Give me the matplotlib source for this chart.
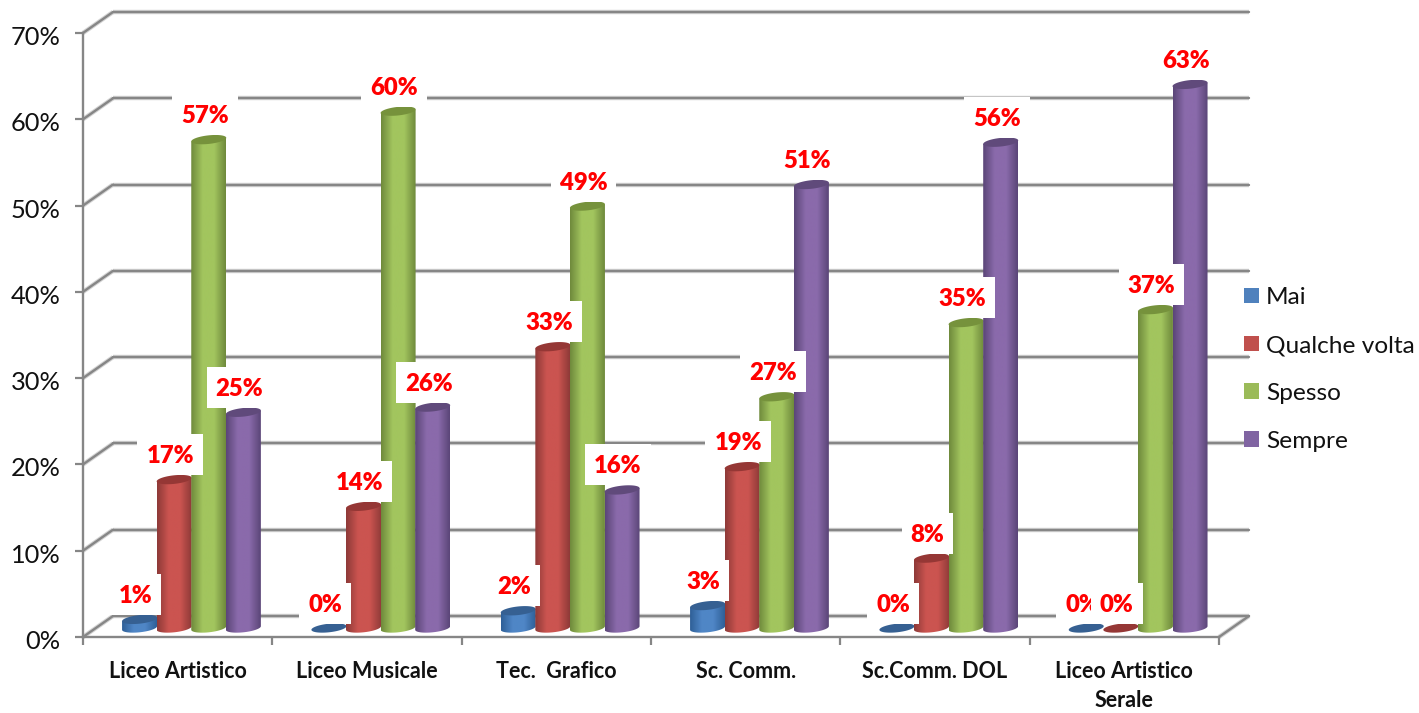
import numpy as np
import matplotlib
matplotlib.use("Agg")
import matplotlib.pyplot as plt
from matplotlib.patches import Polygon, Patch, Rectangle
from matplotlib.colors import LinearSegmentedColormap
from matplotlib.transforms import ScaledTranslation

categories = ["Liceo Artistico", "Liceo Musicale", "Tec.  Grafico", "Sc. Comm.",
              "Sc.Comm. DOL", "Liceo Artistico\nSerale"]
mai = [1.0, 0.0, 2.0, 2.6, 0.0, 0.0]
qualche = [17.2, 14.1, 32.6, 18.7, 8.1, 0.0]
spesso = [56.6, 59.9, 48.9, 26.8, 35.4, 36.9]
sempre = [25.0, 25.6, 16.0, 51.4, 56.3, 63.0]
series_names = ["Mai", "Qualche volta", "Spesso", "Sempre"]
series_values = [mai, qualche, spesso, sempre]
y_ticks = [0, 10, 20, 30, 40, 50, 60, 70]

# (edge, centre, top ellipse)
palette = [("#2f6098", "#4f86c6", "#366092"),
           ("#8e3a38", "#cb5450", "#953735"),
           ("#6f8a3c", "#a2c55e", "#76923c"),
           ("#5b4678", "#8a6aab", "#604a7b")]
legend_colors = ["#4f81bd", "#c0504d", "#9bbb59", "#8064a2"]

W, H = 1419, 713
X0, X1, Y0, Y70 = 83, 1219, 637, 33
plt.rcParams["font.family"] = ["Lato", "DejaVu Sans"]
fig = plt.figure(figsize=(W / 100, H / 100), dpi=100)
ax = fig.add_axes([X0 / W, 1 - Y0 / H, (X1 - X0) / W, (Y0 - Y70) / H])
ax.set_facecolor("none")
n = len(categories)

PX = n / (X1 - X0)            # data units per pixel, x
PY = 70 / (Y0 - Y70)          # data units per pixel, y
GRID = "#868686"
SHADOW = "#d4d4d4"
DX, DY = 30 * PX, 21 * PY     # depth of the 3-D box


def axline(xs, ys, z=1):
    ax.plot(xs, ys, color=SHADOW, lw=3.2, clip_on=False, zorder=z, solid_capstyle="butt")
    ax.plot(xs, ys, color=GRID, lw=1.7, clip_on=False, zorder=z + 0.1, solid_capstyle="round")


for v in y_ticks:
    axline([DX, n + DX], [v + DY, v + DY])
    axline([0, DX], [v, v + DY])
axline([n, n + DX], [0, DY])

for s in ("top", "right"):
    ax.spines[s].set_visible(False)
for s in ("left", "bottom"):
    ax.spines[s].set_color(GRID)
    ax.spines[s].set_linewidth(1.7)
    ax.spines[s].set_zorder(2)

ax.set_yticks(y_ticks)
ax.set_yticklabels([f"{v}%" for v in y_ticks], fontsize=18.3, color="#111111")
ax.tick_params(axis="y", length=6, width=1.6, color=GRID, pad=10)
shift = ScaledTranslation(0, -2.5 / 100, fig.dpi_scale_trans)
for lab in ax.get_yticklabels():
    lab.set_transform(lab.get_transform() + shift)
ax.set_xticks(np.arange(n + 1))
ax.set_xticklabels([])
ax.tick_params(axis="x", length=6, width=1.6, color=GRID)
ax.set_xticks(np.arange(n) + 0.5, minor=True)
ax.set_xticklabels(categories, minor=True, fontsize=15.5, fontweight="bold", color="#111111",
                   linespacing=1.5)
ax.tick_params(axis="x", which="minor", length=0, pad=17)

BASE = 9 * PY      # floor height of the cylinders' base centre
RX, RY = 17.5 * PX, 4.3 * PY
TILT = 1.8 * PY
t = np.linspace(0, 2 * np.pi, 73)
OFFSETS = (np.arange(4) - 1.5) * 34.6 * PX + 13.8 * PX


def ell(cx, cy):
    return np.column_stack([cx + RX * np.cos(t), cy + RY * np.sin(t) + TILT * np.cos(t)])


for c in range(n):
    for s in range(4):
        val = series_values[s][c]
        cx = c + 0.5 + OFFSETS[s]
        edge, mid, top = palette[s]
        ybase = BASE
        ytop = BASE + val
        z = 5 + c + s * 0.1
        if val > 0:
            cmap = LinearSegmentedColormap.from_list("c", [edge, mid, mid, edge])
            lower = t[36:73]
            body = np.vstack([
                [[cx - RX, ytop - TILT], [cx + RX, ytop + TILT]],
                np.column_stack([cx + RX * np.cos(lower[::-1]),
                                 ybase + RY * np.sin(lower[::-1]) + TILT * np.cos(lower[::-1])]),
            ])
            clip = Polygon(body, closed=True, transform=ax.transData, fc="none", ec="none")
            ax.add_patch(clip)
            grad = np.linspace(0, 1, 64).reshape(1, -1)
            im = ax.imshow(grad, cmap=cmap, extent=[cx - RX, cx + RX, ybase - 2 * RY - TILT, ytop + 2 * TILT],
                           aspect="auto", origin="lower", zorder=z, interpolation="bilinear")
            im.set_clip_path(clip)
        ax.add_patch(Polygon(ell(cx, ytop), closed=True, fc=top, ec="none", zorder=z + 0.05, clip_on=False))

ax.set_xlim(0, n)
ax.set_ylim(0, 70)

renderer = fig.canvas.get_renderer()
for c in range(n):
    for s in range(4):
        val = series_values[s][c]
        cx = c + 0.5 + OFFSETS[s]
        z = 20 + c + s * 0.1
        ytop = BASE + val
        lx = cx - 4 * PX
        txt = ax.text(lx, ytop + 23.5 * PY, f"{round(val)}%", color="#ff0000", fontsize=17.2,
                      fontweight=800, ha="center", va="center", zorder=z + 0.01)
        w = txt.get_window_extent(renderer).width + 18
        ax.add_patch(Rectangle((lx - w / 2 * PX, ytop + 4.5 * PY), w * PX, 41 * PY,
                               fc="white", ec="none", zorder=z, clip_on=False))

handles = [Patch(fc=col, ec="none") for col in legend_colors]
ax.legend(handles, series_names, loc="center left", bbox_to_anchor=(1244 / W, 1 - 369.5 / H),
          bbox_transform=fig.transFigure, frameon=False, fontsize=17.6, labelspacing=1.1,
          handlelength=0.61, handleheight=0.61, handletextpad=0.3, borderpad=0, borderaxespad=0,
          labelcolor="#111111")

fig.savefig("out.png", dpi=100, facecolor="white")
